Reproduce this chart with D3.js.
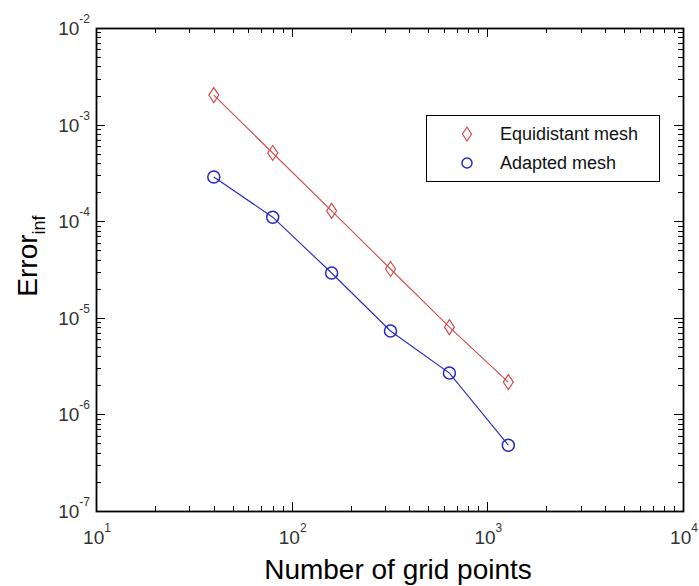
<!DOCTYPE html>
<html><head><meta charset="utf-8">
<script src="https://cdn.jsdelivr.net/npm/d3@7/dist/d3.min.js"></script>
<style>body{margin:0;background:#fff}svg{display:block}text{font-family:"Liberation Sans",Arial,sans-serif}</style>
</head><body><svg id="c" width="699" height="586"></svg>
<script>
const gridPoints = [40, 80, 160, 320, 640, 1280];
const equidistant = [2.02e-3, 5.08e-4, 1.28e-4, 3.2e-5, 8.0e-6, 2.16e-6];
const adapted = [2.87e-4, 1.10e-4, 2.91e-5, 7.3e-6, 2.68e-6, 4.8e-7];
const xTickExps = [1, 2, 3, 4];
const yTickExps = [-2, -3, -4, -5, -6, -7];
const seriesNames = ["Equidistant mesh", "Adapted mesh"];

const svg = d3.select("#c");
const L = 96, R = 683, T = 28, B = 511;
const x = d3.scaleLog().domain([10, 1e4]).range([L, R]);
const y = d3.scaleLog().domain([1e-7, 1e-2]).range([B, T]);

const g = svg.append("g");
const xMinor = [], yMinor = [];
for (let e = 1; e < 4; e++) for (let m = 2; m <= 9; m++) xMinor.push(m * Math.pow(10, e));
for (let e = -7; e < -2; e++) for (let m = 2; m <= 9; m++) yMinor.push(m * Math.pow(10, e));
const xMajor = xTickExps.map(e => Math.pow(10, e));
const yMajor = yTickExps.map(e => Math.pow(10, e));
const tk = g.append("g").attr("stroke", "#000").attr("stroke-width", 1);
function xt(v, len) {
  const px = Math.round(x(v)) + 0.5;
  tk.append("line").attr("x1", px).attr("x2", px).attr("y1", B).attr("y2", B - len);
  tk.append("line").attr("x1", px).attr("x2", px).attr("y1", T).attr("y2", T + len);
}
function yt(v, len) {
  const py = Math.round(y(v)) + 0.5;
  tk.append("line").attr("x1", L).attr("x2", L + len).attr("y1", py).attr("y2", py);
  tk.append("line").attr("x1", R).attr("x2", R - len).attr("y1", py).attr("y2", py);
}
xMinor.forEach(v => xt(v, 5)); xMajor.forEach(v => xt(v, 9));
yMinor.forEach(v => yt(v, 5)); yMajor.forEach(v => yt(v, 9));
g.append("rect").attr("x", L + 0.5).attr("y", T + 0.5).attr("width", R - L).attr("height", B - T)
  .attr("fill", "none").attr("stroke", "#000").attr("stroke-width", 1.8);

// tick labels
xTickExps.forEach(e => {
  const t = g.append("text").attr("x", x(Math.pow(10, e)) + 1).attr("y", 544).attr("text-anchor", "middle")
    .attr("font-size", 19).attr("fill", "#333");
  t.append("tspan").text("10");
  t.append("tspan").attr("dy", -12).attr("font-size", 12).text(e);
});
yTickExps.forEach(e => {
  const t = g.append("text").attr("x", 90).attr("y", y(Math.pow(10, e)) + 7).attr("text-anchor", "end")
    .attr("font-size", 19).attr("fill", "#333");
  t.append("tspan").text("10");
  t.append("tspan").attr("dy", -12).attr("font-size", 12).text(e);
});

// axis labels
g.append("text").attr("x", 398).attr("y", 579).attr("text-anchor", "middle").attr("font-size", 28)
  .attr("fill", "#000").text("Number of grid points");
const yl = g.append("text").attr("transform", "translate(37,256) rotate(-90)").attr("text-anchor", "middle")
  .attr("font-size", 28).attr("fill", "#000");
yl.append("tspan").text("Error");
yl.append("tspan").attr("dy", 8).attr("font-size", 18).text("inf");

// series
const line = d3.line().x(d => x(d[0])).y(d => y(d[1]));
const red = "#d24b4b", blue = "#2626c4";
const eqData = gridPoints.map((p, i) => [p, equidistant[i]]);
const adData = gridPoints.map((p, i) => [p, adapted[i]]);
g.append("path").attr("d", line(eqData)).attr("fill", "none").attr("stroke", red).attr("stroke-width", 1.1);
g.append("path").attr("d", line(adData)).attr("fill", "none").attr("stroke", blue).attr("stroke-width", 1.1);
function diamond(sel, cx, cy, w, h) {
  sel.append("path").attr("d", `M${cx},${cy - h}L${cx + w},${cy}L${cx},${cy + h}L${cx - w},${cy}Z`)
    .attr("fill", "none").attr("stroke", red).attr("stroke-width", 1.2);
}
function circle(sel, cx, cy, r) {
  sel.append("circle").attr("cx", cx).attr("cy", cy).attr("r", r)
    .attr("fill", "none").attr("stroke", blue).attr("stroke-width", 1.5);
}
eqData.forEach(d => diamond(g, x(d[0]), y(d[1]), 5, 7.5));
adData.forEach(d => circle(g, x(d[0]), y(d[1]), 6));

// legend
const lg = g.append("g");
lg.append("rect").attr("x", 426.5).attr("y", 115.5).attr("width", 233).attr("height", 66)
  .attr("fill", "#fff").attr("stroke", "#000").attr("stroke-width", 1);
diamond(lg, 467, 134, 4.5, 7);
circle(lg, 467, 163, 5);
seriesNames.forEach((n, i) => {
  lg.append("text").attr("x", 500).attr("y", 140 + i * 29).attr("font-size", 18).attr("fill", "#111").text(n);
});
</script></body></html>
